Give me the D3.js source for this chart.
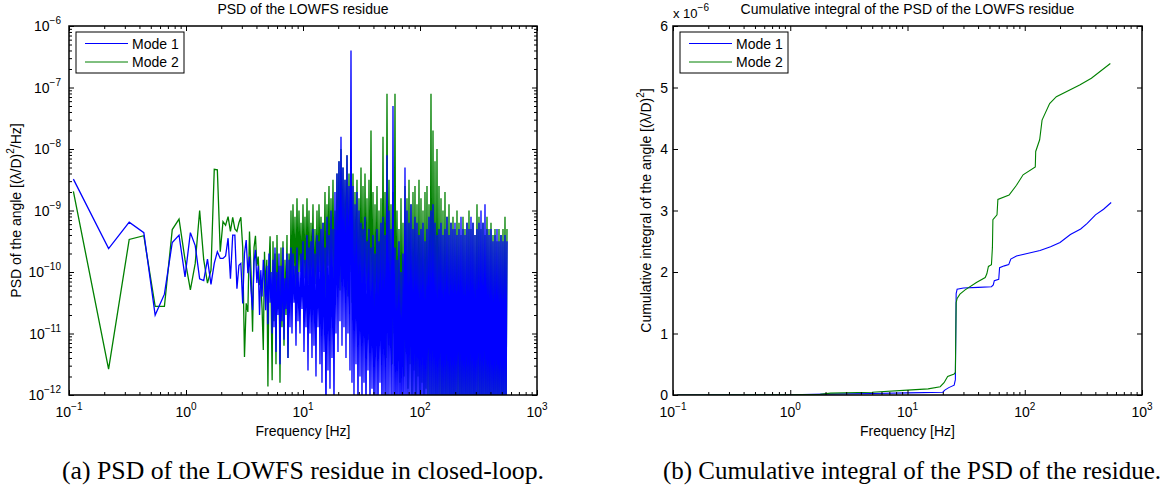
<!DOCTYPE html>
<html>
<head>
<meta charset="utf-8">
<script src="https://cdn.jsdelivr.net/npm/d3@7"></script>
<style>
  body { margin: 0; background: #fff; }
  text { font-family: "Liberation Sans", Arial, Helvetica, sans-serif; fill: #000; }
  text.caption { font-family: "Liberation Serif", "Times New Roman", Times, serif; }
  .axis path.domain { display: none; }
  .axis line { stroke: #000; }
</style>
</head>
<body>
<svg id="fig" width="1166" height="489"></svg>
<script>
// ---------------- data ----------------
// PSD, log10 of [(lambda/D)^2/Hz]; first 50 frequency bins, spacing df
var df = 0.109;
var mode1Low = [-8.49, -9.62, -9.19, -9.36, -10.70, -10.36, -9.52, -9.40, -10.08, -9.36,
  -9.57, -10.11, -10.14, -9.79, -10.20, -9.86, -9.67, -9.78, -9.78, -9.74,
  -9.45, -10.11, -9.40, -9.40, -10.27, -9.89, -9.86, -10.51, -9.70, -9.48,
  -10.02, -9.75, -10.30, -10.62, -9.83, -9.64, -10.18, -9.90, -10.70, -9.97,
  -10.40, -9.80, -10.16, -10.62, -9.90, -10.85, -9.70, -10.50, -10.00, -11.00];
var mode2Low = [-8.69, -11.58, -9.47, -9.41, -10.56, -10.56, -9.31, -9.14, -9.80, -10.29,
  -9.86, -9.00, -9.80, -10.18, -9.97, -8.33, -8.34, -9.67, -9.18, -9.24,
  -9.10, -9.34, -9.11, -9.30, -9.34, -9.20, -9.11, -9.60, -11.38, -10.51,
  -10.65, -9.34, -10.00, -10.97, -9.60, -9.41, -9.90, -9.75, -10.20, -10.18,
  -10.60, -11.27, -9.67, -10.30, -9.80, -11.86, -9.91, -9.42, -10.50, -11.76];

// dense part 5.54 Hz .. 554 Hz: local peak / trough per pixel column (log10)
var hiRange = [5.54, 554];
var mode1Hi = [
  -9.8, -10.9, -9.6, -11.3, -10.0, -10.7, -9.7, -11.5, -9.9, -10.8,
  -9.6, -11.1, -10.1, -10.6, -9.7, -11.4, -9.8, -10.9, -9.6, -11.0,
  -9.7, -10.5, -9.9, -11.2, -9.6, -10.8, -10.0, -11.0, -9.7, -10.6,
  -9.5, -11.3, -9.8, -10.9, -9.4, -11.6, -9.6, -11.0, -9.5, -11.4,
  -9.3, -11.2, -9.7, -11.7, -9.4, -10.9, -9.5, -11.5, -9.3, -11.8,
  -9.2, -11.3, -9.6, -12.5, -9.1, -11.6, -9.4, -11.9, -9.0, -11.4,
  -9.3, -12.2, -8.7, -11.0, -8.4, -11.3, -8.2, -10.8, -7.8, -11.2,
  -8.3, -10.9, -8.5, -11.4, -8.1, -11.0, -8.6, -11.6, -6.4, -11.8,
  -8.6, -12.0, -8.9, -11.5, -8.7, -12.3, -9.0, -11.7, -9.2, -12.1,
  -9.3, -11.8, -9.1, -12.4, -9.5, -11.6, -9.3, -12.2, -9.6, -11.9,
  -9.4, -12.5, -9.7, -12.0, -9.3, -12.4, -9.5, -11.8, -9.2, -12.5,
  -9.1, -12.2, -9.4, -12.5, -8.1, -12.3, -9.0, -12.0, -9.3, -12.5,
  -7.3, -12.5, -9.6, -12.5, -9.8, -12.4, -9.5, -12.5, -10.0, -12.5,
  -9.7, -12.5, -8.3, -12.5, -9.0, -12.5, -9.2, -12.3, -8.9, -12.5,
  -9.3, -12.5, -9.1, -12.5, -9.2, -12.4, -9.4, -12.5, -9.3, -12.5,
  -9.2, -12.5, -9.5, -12.5, -9.3, -12.2, -9.1, -12.5, -9.0, -12.5,
  -8.9, -12.5, -9.2, -12.5, -9.4, -12.5, -9.3, -12.3, -9.2, -12.5,
  -9.4, -12.5, -9.3, -12.5, -9.1, -12.5, -9.4, -12.5, -9.2, -12.5,
  -9.3, -12.5, -9.2, -12.5, -9.4, -12.2, -9.3, -12.5, -9.1, -12.5,
  -9.3, -12.5, -9.4, -12.5, -9.2, -12.5, -9.3, -12.5, -9.1, -12.5,
  -9.2, -12.5, -9.4, -12.5, -9.3, -12.3, -9.2, -12.5, -9.0, -12.5,
  -9.2, -12.5, -8.9, -12.5, -9.3, -12.5, -9.4, -12.5, -9.3, -12.5,
  -9.5, -12.5, -9.4, -12.5, -9.3, -12.5, -9.5, -12.5, -9.4, -12.5,
  -9.5, -12.5, -9.4, -12.5, -9.5];
var mode2Hi = [
  -9.5, -10.8, -9.7, -11.5, -9.4, -10.6, -9.9, -11.8, -9.6, -10.9,
  -9.5, -11.2, -9.8, -10.7, -9.4, -11.4, -9.7, -10.5, -9.0, -10.3,
  -8.9, -10.1, -9.1, -10.4, -8.8, -10.2, -9.0, -10.0, -9.2, -10.3,
  -8.9, -10.1, -9.1, -10.4, -8.8, -10.2, -9.0, -10.5, -9.2, -10.1,
  -8.9, -10.6, -9.3, -10.2, -9.0, -10.4, -8.9, -10.0, -9.1, -10.5,
  -9.2, -10.3, -8.7, -10.6, -8.9, -9.9, -8.6, -10.4, -8.8, -10.1,
  -8.5, -10.3, -9.0, -10.0, -8.4, -9.8, -8.2, -10.3, -8.0, -9.6,
  -8.3, -10.1, -8.5, -9.9, -8.1, -10.4, -8.4, -10.0, -8.6, -10.5,
  -8.4, -10.8, -8.7, -10.2, -8.5, -11.0, -8.8, -10.4, -8.3, -10.7,
  -8.6, -10.9, -8.4, -10.3, -8.8, -11.1, -8.5, -10.6, -7.7, -10.8,
  -8.7, -11.2, -8.9, -10.5, -8.6, -11.0, -9.0, -10.7, -8.8, -11.3,
  -7.8, -10.9, -8.7, -11.4, -7.1, -10.8, -8.5, -11.2, -8.9, -11.5,
  -8.7, -11.0, -7.1, -11.6, -9.0, -11.2, -9.3, -11.8, -8.8, -11.4,
  -9.2, -11.7, -8.6, -11.3, -8.8, -11.9, -8.5, -11.5, -8.9, -12.0,
  -8.7, -11.6, -8.6, -12.1, -8.9, -11.7, -8.5, -12.0, -8.8, -11.8,
  -9.0, -12.2, -8.7, -11.9, -8.6, -12.3, -8.9, -12.0, -7.1, -12.2,
  -7.7, -12.0, -8.2, -12.4, -8.0, -12.1, -8.6, -12.3, -8.8, -12.5,
  -9.0, -12.2, -8.7, -12.5, -9.1, -12.3, -8.9, -12.5, -9.2, -12.4,
  -9.1, -12.5, -9.3, -12.2, -9.0, -12.5, -9.2, -12.4, -9.4, -12.5,
  -9.1, -12.3, -9.3, -12.5, -9.2, -12.4, -9.0, -12.5, -9.3, -12.3,
  -9.2, -12.5, -9.4, -12.2, -8.9, -12.5, -9.1, -12.4, -9.3, -12.5,
  -9.2, -12.3, -9.4, -12.5, -9.1, -12.4, -9.3, -12.5, -9.2, -12.3,
  -9.4, -12.5, -9.3, -12.4, -9.5, -12.5, -9.3, -12.3, -9.4, -12.5,
  -9.3, -12.4, -9.1, -12.5, -9.3];

// cumulative integral, units of 1e-6 (lambda/D)^2
var cum1Freq = [0.109, 1, 2, 5, 10, 20, 20.8, 22.5, 25, 25.6, 26.0, 26.5, 30, 40, 52, 53.9, 55, 60, 61, 67,
  73, 76, 85, 105, 135, 166, 200, 245, 300, 341, 401, 470, 546];
var cum1Val = [0, 0.004, 0.015, 0.025, 0.035, 0.045, 0.08, 0.12, 0.16, 0.25, 1.65, 1.72, 1.74, 1.75, 1.76, 1.79, 1.86, 1.88, 2.07, 2.10,
  2.12, 2.21, 2.26, 2.30, 2.35, 2.41, 2.48, 2.61, 2.70, 2.79, 2.93, 3.02, 3.13];
var cum2Freq = [0.109, 1, 1.8, 2.2, 5, 10, 15, 19, 20.5, 22, 25, 25.6, 26.0, 26.5, 28, 31, 38.7, 46, 47.5, 49,
  52, 53, 53.5, 58, 59, 73.5, 85, 96.8, 123, 124, 134, 140.5, 163, 186, 294, 370, 537];
var cum2Val = [0, 0.005, 0.01, 0.03, 0.045, 0.08, 0.10, 0.135, 0.20, 0.30, 0.34, 0.37, 1.50, 1.57, 1.64, 1.71, 1.83, 1.91, 1.97, 2.09,
  2.12, 2.40, 2.85, 2.93, 3.18, 3.25, 3.41, 3.58, 3.71, 3.96, 4.15, 4.47, 4.74, 4.85, 5.04, 5.15, 5.39];

var legendNames = ["Mode 1", "Mode 2"];
var colors = ["#0000ff", "#008000"];
var xDecades = [0.1, 1, 10, 100, 1000];
var psdDecades = [-12, -11, -10, -9, -8, -7, -6];
var cumTicks = [0, 1, 2, 3, 4, 5, 6];

// ---------------- helpers ----------------
function buildPsd(low, hi) {
  var pts = low.map(function (v, i) { return { f: (i + 1) * df, p: Math.pow(10, v) }; });
  var l0 = Math.log10(hiRange[0]), l1 = Math.log10(hiRange[1]);
  hi.forEach(function (v, i) {
    pts.push({ f: Math.pow(10, l0 + i * (l1 - l0) / (hi.length - 1)), p: Math.pow(10, v) });
  });
  return pts;
}

function powLabel(sel, exp, anchor) {
  var t = sel.append("text").attr("text-anchor", anchor).attr("font-size", 14);
  t.append("tspan").text("10");
  t.append("tspan").attr("dy", -7).attr("font-size", 10).text(exp < 0 ? "\u2212" + (-exp) : exp);
  return t;
}

var minorX = [];
xDecades.slice(0, -1).forEach(function (d) { for (var m = 2; m < 10; m++) minorX.push(d * m); });

var svg = d3.select("#fig");

function makePanel(p, id) {
  var w = p.right - p.left, h = p.bottom - p.top;
  var g = svg.append("g").attr("transform", "translate(" + p.left + "," + p.top + ")");
  g.append("clipPath").attr("id", id).append("rect").attr("width", w).attr("height", h);
  return { g: g, w: w, h: h };
}

function inwardTicks(g, scale, vals, size, orient, w, h) {
  var ax;
  if (orient === "x") {
    ax = d3.axisBottom(scale).tickValues(vals).tickSize(-size).tickSizeOuter(0).tickFormat("");
    g.append("g").attr("class", "axis").attr("transform", "translate(0," + h + ")").call(ax);
    ax = d3.axisTop(scale).tickValues(vals).tickSize(-size).tickSizeOuter(0).tickFormat("");
    g.append("g").attr("class", "axis").call(ax);
  } else {
    ax = d3.axisLeft(scale).tickValues(vals).tickSize(-size).tickSizeOuter(0).tickFormat("");
    g.append("g").attr("class", "axis").call(ax);
    ax = d3.axisRight(scale).tickValues(vals).tickSize(-size).tickSizeOuter(0).tickFormat("");
    g.append("g").attr("class", "axis").attr("transform", "translate(" + w + ",0)").call(ax);
  }
}

function legend(g, x0, y0) {
  var lg = g.append("g").attr("transform", "translate(" + x0 + "," + y0 + ")");
  lg.append("rect").attr("width", 108).attr("height", 41).attr("fill", "#fff").attr("stroke", "#000").attr("stroke-width", 1);
  legendNames.forEach(function (name, i) {
    lg.append("line").attr("x1", 9).attr("x2", 52).attr("y1", 11.5 + i * 18.5).attr("y2", 11.5 + i * 18.5)
      .attr("stroke", colors[i]).attr("stroke-width", 1);
    lg.append("text").attr("x", 56).attr("y", 16.5 + i * 18.5).attr("font-size", 14).text(name);
  });
}

// ---------------- panel (a): PSD ----------------
var pa = { left: 69, right: 537, top: 26, bottom: 395 };
var A = makePanel(pa, "clipA");
var xA = d3.scaleLog().domain([0.1, 1000]).range([0, A.w]);
var yA = d3.scaleLog().domain([1e-12, 1e-6]).range([A.h, 0]);

var psd1 = buildPsd(mode1Low, mode1Hi);
var psd2 = buildPsd(mode2Low, mode2Hi);
var lineA = d3.line().x(function (d) { return xA(d.f); }).y(function (d) { return yA(d.p); });

var plotA = A.g.append("g").attr("clip-path", "url(#clipA)");
plotA.append("path").datum(psd2).attr("d", lineA).attr("fill", "none").attr("stroke", colors[1]).attr("stroke-width", 1.3);
plotA.append("path").datum(psd1).attr("d", lineA).attr("fill", "none").attr("stroke", colors[0]).attr("stroke-width", 1.3);

var minorY = [];
psdDecades.slice(0, -1).forEach(function (e) { for (var m = 2; m < 10; m++) minorY.push(m * Math.pow(10, e)); });
inwardTicks(A.g, xA, xDecades, 5, "x", A.w, A.h);
inwardTicks(A.g, xA, minorX, 3, "x", A.w, A.h);
inwardTicks(A.g, yA, psdDecades.map(function (e) { return Math.pow(10, e); }), 5, "y", A.w, A.h);
inwardTicks(A.g, yA, minorY, 3, "y", A.w, A.h);
A.g.append("rect").attr("width", A.w).attr("height", A.h).attr("fill", "none").attr("stroke", "#000").attr("stroke-width", 1.5);

xDecades.forEach(function (d) {
  powLabel(A.g, Math.round(Math.log10(d)), "middle").attr("x", xA(d)).attr("y", A.h + 22);
});
psdDecades.forEach(function (e) {
  powLabel(A.g, e, "end").attr("x", -8).attr("y", yA(Math.pow(10, e)) + 5);
});
legend(A.g, 7, 6);

svg.append("text").attr("x", (pa.left + pa.right) / 2).attr("y", 14).attr("text-anchor", "middle")
  .attr("font-size", 14).text("PSD of the LOWFS residue");
svg.append("text").attr("x", (pa.left + pa.right) / 2).attr("y", 436).attr("text-anchor", "middle")
  .attr("font-size", 14).text("Frequency [Hz]");
var ylA = svg.append("text").attr("transform", "translate(21," + (pa.top + pa.bottom) / 2 + ") rotate(-90)")
  .attr("text-anchor", "middle").attr("font-size", 14);
ylA.append("tspan").text("PSD of the angle [(\u03bb/D)");
ylA.append("tspan").attr("dy", -7).attr("font-size", 10).text("2");
ylA.append("tspan").attr("dy", 7).text("/Hz]");

// ---------------- panel (b): cumulative integral ----------------
var pb = { left: 673, right: 1142, top: 26, bottom: 395 };
var B = makePanel(pb, "clipB");
var xB = d3.scaleLog().domain([0.1, 1000]).range([0, B.w]);
var yB = d3.scaleLinear().domain([0, 6]).range([B.h, 0]);
var lineB = d3.line().x(function (d) { return xB(d[0]); }).y(function (d) { return yB(d[1]); });

var plotB = B.g.append("g").attr("clip-path", "url(#clipB)");
plotB.append("path").datum(d3.zip(cum1Freq, cum1Val)).attr("d", lineB).attr("fill", "none").attr("stroke", colors[0]).attr("stroke-width", 1.1);
plotB.append("path").datum(d3.zip(cum2Freq, cum2Val)).attr("d", lineB).attr("fill", "none").attr("stroke", colors[1]).attr("stroke-width", 1.1);

inwardTicks(B.g, xB, xDecades, 5, "x", B.w, B.h);
inwardTicks(B.g, xB, minorX, 3, "x", B.w, B.h);
inwardTicks(B.g, yB, cumTicks, 5, "y", B.w, B.h);
B.g.append("rect").attr("width", B.w).attr("height", B.h).attr("fill", "none").attr("stroke", "#000").attr("stroke-width", 1.5);

xDecades.forEach(function (d) {
  powLabel(B.g, Math.round(Math.log10(d)), "middle").attr("x", xB(d)).attr("y", B.h + 22);
});
cumTicks.forEach(function (v) {
  B.g.append("text").attr("x", -5).attr("y", yB(v) + 5).attr("text-anchor", "end").attr("font-size", 14).text(v);
});
legend(B.g, 7, 6);

var mult = svg.append("text").attr("x", pb.left).attr("y", 18).attr("font-size", 13);
mult.append("tspan").text("x 10");
mult.append("tspan").attr("dy", -7).attr("font-size", 10).text("\u22126");

svg.append("text").attr("x", (pb.left + pb.right) / 2).attr("y", 14).attr("text-anchor", "middle")
  .attr("font-size", 14).text("Cumulative integral of the PSD of the LOWFS residue");
svg.append("text").attr("x", (pb.left + pb.right) / 2).attr("y", 436).attr("text-anchor", "middle")
  .attr("font-size", 14).text("Frequency [Hz]");
var ylB = svg.append("text").attr("transform", "translate(651," + (pb.top + pb.bottom) / 2 + ") rotate(-90)")
  .attr("text-anchor", "middle").attr("font-size", 14);
ylB.append("tspan").text("Cumulative integral of the angle [(\u03bb/D)");
ylB.append("tspan").attr("dy", -7).attr("font-size", 10).text("2");
ylB.append("tspan").attr("dy", 7).text("]");

// ---------------- captions ----------------
svg.append("text").attr("class", "caption").attr("x", 62).attr("y", 479).attr("font-size", 25)
  .attr("textLength", 482).attr("lengthAdjust", "spacingAndGlyphs")
  .text("(a) PSD of the LOWFS residue in closed-loop.");
svg.append("text").attr("class", "caption").attr("x", 663).attr("y", 479).attr("font-size", 25)
  .attr("textLength", 498).attr("lengthAdjust", "spacingAndGlyphs")
  .text("(b) Cumulative integral of the PSD of the residue.");
</script>
</body>
</html>
